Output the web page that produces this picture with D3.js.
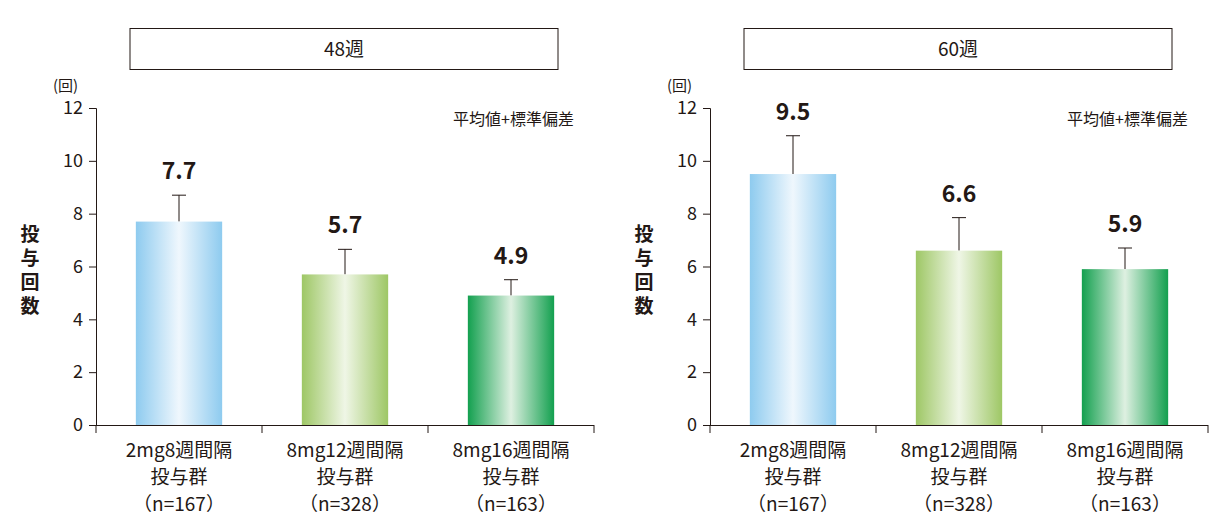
<!DOCTYPE html>
<html><head><meta charset="utf-8">
<script src="https://cdn.jsdelivr.net/npm/d3@7"></script>
<style>body{margin:0;background:#fff}text{font-family:"Noto Sans CJK JP","Noto Sans",sans-serif;fill:#231815}</style>
</head><body><svg id="c" width="1228" height="529"></svg>
<script>
const categories = ["2mg8週間隔|投与群|（n=167）","8mg12週間隔|投与群|（n=328）","8mg16週間隔|投与群|（n=163）"];
const panelTitles = ["48週","60週"];
const means48 = [7.7, 5.7, 4.9];
const sdTop48 = [8.7, 6.65, 5.5];
const means60 = [9.5, 6.6, 5.9];
const sdTop60 = [10.95, 7.85, 6.7];
const yTicks = [0,2,4,6,8,10,12];
const barColors = [["#8ecbef","#eff7fd"],["#9ec765","#eff6e6"],["#13a04f","#def0e1"]];

const svg = d3.select("#c");
const defs = svg.append("defs");
barColors.forEach((c,i)=>{
  const g = defs.append("linearGradient").attr("id","g"+i).attr("x1","0").attr("x2","1");
  g.append("stop").attr("offset","0").attr("stop-color",c[0]);
  g.append("stop").attr("offset","0.5").attr("stop-color",c[1]);
  g.append("stop").attr("offset","1").attr("stop-color",c[0]);
});

function panel(ox, title, means, tops){
  const g = svg.append("g");
  const x = d3.scaleBand().domain(categories).range([ox, ox+498]).paddingInner(0.48).paddingOuter(0.24);
  const y = d3.scaleLinear().domain([0,12]).range([425,108]);
  g.append("rect").attr("x",ox+34).attr("y",28.5).attr("width",428).attr("height",41).attr("fill","#fff").attr("stroke","#231815").attr("stroke-width",1);
  g.append("text").attr("x",ox+248).attr("y",56).attr("text-anchor","middle").attr("font-size",19).text(title);
  g.append("text").attr("x",ox-43).attr("y",91).attr("font-size",15).text("(回)");
  g.append("text").attr("x",ox+478).attr("y",125).attr("text-anchor","end").attr("font-size",16).text("平均値+標準偏差");
  const yl = g.append("text").attr("font-size",19).attr("font-weight","bold").attr("text-anchor","middle");
  ["投","与","回","数"].forEach((ch,i)=>yl.append("tspan").attr("x",ox-66).attr("y",241+i*24).text(ch));
  const ya = g.append("g").attr("transform",`translate(${ox},0)`).call(d3.axisLeft(y).tickValues(yTicks).tickSize(7).tickPadding(6));
  ya.select(".domain").attr("stroke","#231815");
  ya.selectAll("line").attr("stroke","#231815");
  ya.selectAll("text").attr("font-size",18).attr("fill","#231815");
  g.append("line").attr("x1",ox).attr("x2",ox+498).attr("y1",425.5).attr("y2",425.5).attr("stroke","#231815");
  [0,1,2,3].forEach(i=>{
    const xx = ox + i*166;
    g.append("line").attr("x1",xx).attr("x2",xx).attr("y1",425).attr("y2",433).attr("stroke","#231815");
  });
  categories.forEach((c,i)=>{
    const cx = x(c)+x.bandwidth()/2;
    g.append("line").attr("x1",cx).attr("x2",cx).attr("y1",y(means[i])).attr("y2",y(tops[i])).attr("stroke","#231815");
    g.append("line").attr("x1",cx-7).attr("x2",cx+7).attr("y1",y(tops[i])).attr("y2",y(tops[i])).attr("stroke","#231815");
    g.append("rect").attr("x",x(c)).attr("y",y(means[i])).attr("width",x.bandwidth()).attr("height",y(0)-y(means[i])).attr("fill",`url(#g${i})`);
    g.append("text").attr("x",cx).attr("y",y(tops[i])-16).attr("text-anchor","middle").attr("font-size",23).attr("font-weight","bold").text(means[i].toFixed(1));
    c.split("|").forEach((ln,j)=>{
      g.append("text").attr("x",cx).attr("y",457+j*27).attr("text-anchor","middle").attr("font-size",19).text(ln);
    });
  });
}
panel(96, panelTitles[0], means48, sdTop48);
panel(710, panelTitles[1], means60, sdTop60);
</script></body></html>
